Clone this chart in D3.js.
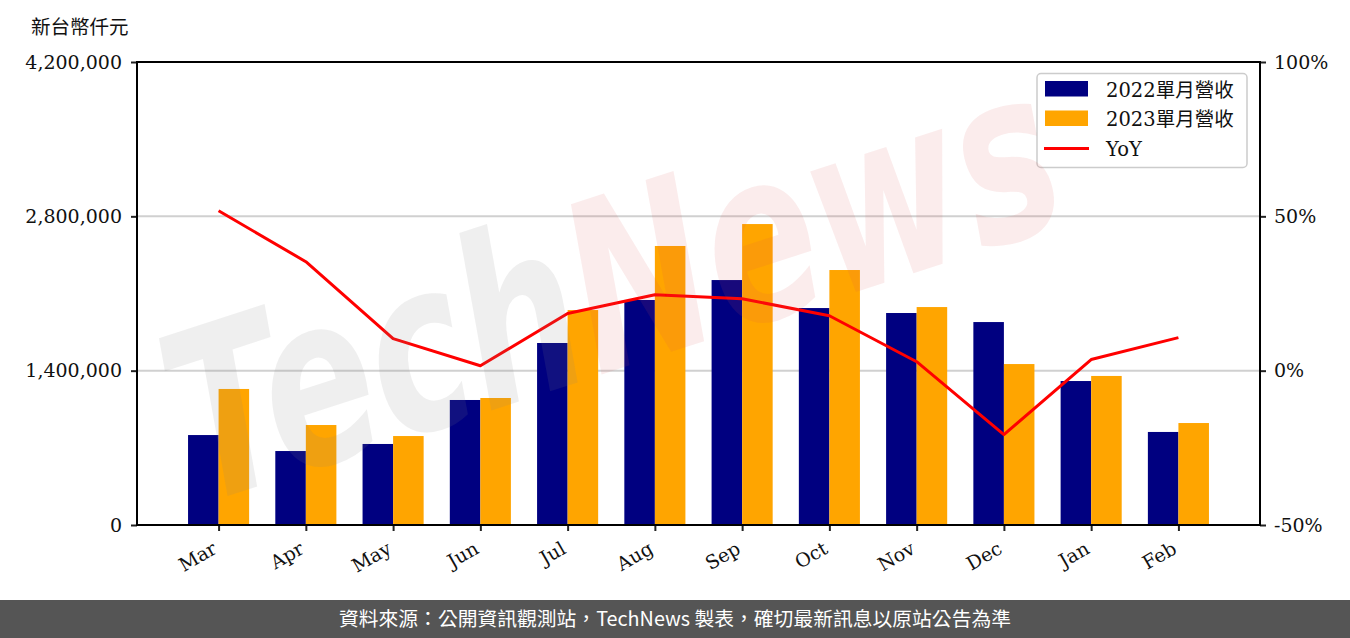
<!DOCTYPE html>
<html>
<head>
<meta charset="utf-8">
<script src="https://cdn.jsdelivr.net/npm/d3@7/dist/d3.min.js"></script>
<style>
  html, body { margin: 0; padding: 0; background: #fff; }
  svg { display: block; }
</style>
</head>
<body>
<svg id="chart" width="1350" height="638"></svg>
<script>
const months = ["Mar","Apr","May","Jun","Jul","Aug","Sep","Oct","Nov","Dec","Jan","Feb"];
const rev2022 = [816000, 671000, 735000, 1134000, 1651000, 2041000, 2222000, 1968000, 1923000, 1841000, 1306000, 844000];
const rev2023 = [1234000, 907000, 807000, 1152000, 1950000, 2531000, 2730000, 2313000, 1977000, 1460000, 1352000, 925000];
const yoy = [51.8, 35.3, 10.4, 1.6, 18.5, 24.6, 23.3, 17.8, 2.9, -20.7, 3.6, 10.7];
const leftTicks = [0, 1400000, 2800000, 4200000];
const leftTickLabels = ["0", "1,400,000", "2,800,000", "4,200,000"];
const rightTicks = [-50, 0, 50, 100];
const rightTickLabels = ["-50%", "0%", "50%", "100%"];
const seriesNames = ["2022單月營收", "2023單月營收", "YoY"];
const unitLabel = "新台幣仟元";
const footerText = "資料來源：公開資訊觀測站，TechNews 製表，確切最新訊息以原站公告為準";

const W = 1350, H = 638;
const L = 137, R = 1260, T = 62, B = 525;
const svg = d3.select("#chart");
const serif = '"DejaVu Serif", "Noto Sans CJK TC", serif';
const fs = 19;

const x = d3.scaleLinear().domain([-0.935, 11.935]).range([L, R]);
const y = d3.scaleLinear().domain([0, 4200000]).range([B, T]);
const y2 = d3.scaleLinear().domain([-50, 100]).range([B, T]);
const bw = 0.35;

// grid
svg.append("g").selectAll("line").data(leftTicks.filter(d => d > 0 && d < 4200000)).join("line")
  .attr("x1", L).attr("x2", R).attr("y1", d => y(d)).attr("y2", d => y(d))
  .attr("stroke", "#d0d0d0").attr("stroke-width", 2);

// bars
svg.append("g").selectAll("rect").data(rev2022).join("rect")
  .attr("x", (d, i) => x(i - bw)).attr("width", (d, i) => x(i) - x(i - bw))
  .attr("y", d => y(d)).attr("height", d => y(0) - y(d)).attr("fill", "#000080");
svg.append("g").selectAll("rect").data(rev2023).join("rect")
  .attr("x", (d, i) => x(i)).attr("width", (d, i) => x(i + bw) - x(i))
  .attr("y", d => y(d)).attr("height", d => y(0) - y(d)).attr("fill", "#ffa500");

// yoy line
svg.append("path").datum(yoy)
  .attr("d", d3.line().x((d, i) => x(i)).y(d => y2(d)))
  .attr("fill", "none").attr("stroke", "#ff0000").attr("stroke-width", 3).attr("stroke-linejoin", "round");

// axes
const gL = svg.append("g").attr("transform", `translate(${L},0)`)
  .call(d3.axisLeft(y).tickValues(leftTicks).tickFormat((d, i) => leftTickLabels[i]).tickSize(6).tickPadding(9));
const gR = svg.append("g").attr("transform", `translate(${R},0)`)
  .call(d3.axisRight(y2).tickValues(rightTicks).tickFormat((d, i) => rightTickLabels[i]).tickSize(6).tickPadding(8));
const gB = svg.append("g").attr("transform", `translate(0,${B})`)
  .call(d3.axisBottom(x).tickValues(d3.range(months.length)).tickFormat(i => months[i]).tickSize(6));
[gL, gR, gB].forEach(g => {
  g.select(".domain").remove();
  g.selectAll(".tick line").attr("stroke", "#222").attr("stroke-width", 2);
  g.selectAll("text").attr("font-family", serif).attr("font-size", fs).attr("fill", "#111");
});
gB.selectAll(".tick text")
  .attr("text-anchor", "end").attr("y", 0).attr("dy", "0.75em")
  .attr("transform", "translate(-8,15) rotate(-30)");

// spines
svg.append("rect").attr("x", L).attr("y", T).attr("width", R - L).attr("height", B - T)
  .attr("fill", "none").attr("stroke", "#000").attr("stroke-width", 2);

// unit label
svg.append("text").attr("x", 31).attr("y", 34).text(unitLabel)
  .attr("font-family", '"Noto Sans CJK TC", sans-serif').attr("font-size", 19.5).attr("fill", "#111");

// legend
const lg = svg.append("g");
lg.append("rect").attr("x", 1037).attr("y", 73.5).attr("width", 210).attr("height", 94).attr("rx", 4)
  .attr("fill", "#fff").attr("fill-opacity", 0.8).attr("stroke", "#ccc").attr("stroke-width", 1.5);
const lcolors = ["#000080", "#ffa500"];
[0, 1].forEach(k => {
  lg.append("rect").attr("x", 1045).attr("y", 81 + k * 29.5).attr("width", 43).attr("height", 15.5).attr("fill", lcolors[k]);
});
lg.append("line").attr("x1", 1044).attr("x2", 1089).attr("y1", 148.5).attr("y2", 148.5)
  .attr("stroke", "#ff0000").attr("stroke-width", 3);
seriesNames.forEach((s, k) => {
  lg.append("text").attr("x", 1106).attr("y", 96.5 + k * 29.5).text(s)
    .attr("font-family", serif).attr("font-size", 19.5).attr("fill", "#111");
});

// watermark (semi-transparent), compressed horizontally with a transform
const wm = svg.append("g");
const wt = wm.append("text").attr("font-family", '"DejaVu Sans", sans-serif')
  .attr("font-style", "italic").attr("font-weight", "bold").attr("font-size", 235);
wt.append("tspan").text("Tech").attr("fill", "rgb(128,128,128)").attr("fill-opacity", 0.13);
wt.append("tspan").text("News").attr("fill", "rgb(220,80,80)").attr("fill-opacity", 0.11);
const natural = wt.node().getComputedTextLength() || 1340;
wm.attr("transform", `translate(200,505) rotate(-18) scale(${920 / natural},1)`);

// footer
svg.append("rect").attr("x", 0).attr("y", 600).attr("width", W).attr("height", 38).attr("fill", "#555555");
svg.append("text").attr("x", W / 2).attr("y", 626).attr("text-anchor", "middle").text(footerText)
  .attr("font-family", '"Noto Sans CJK TC", sans-serif').attr("font-size", 19.8).attr("fill", "#fff");
</script>
</body>
</html>
